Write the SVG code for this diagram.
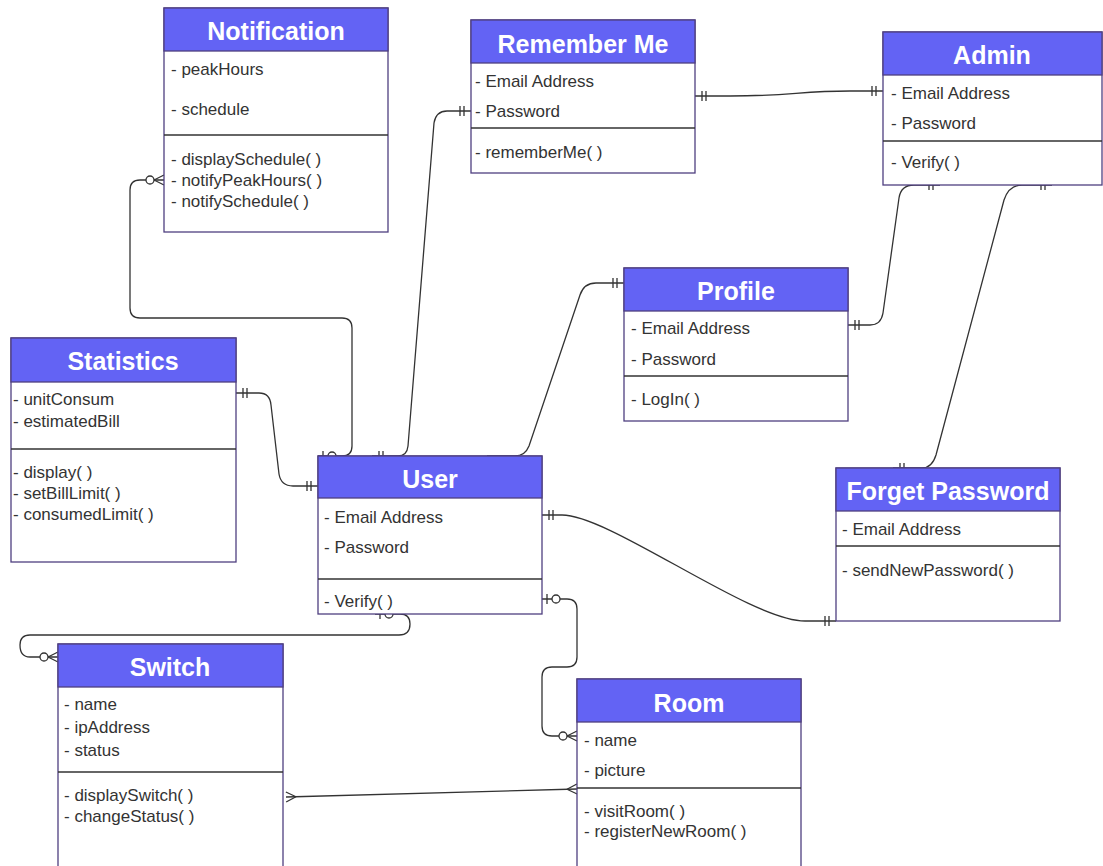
<svg xmlns="http://www.w3.org/2000/svg" width="1103" height="866" viewBox="0 0 1103 866">
<style>
  .box{fill:#fff;stroke:#4f3f80;stroke-width:1.3}
  .hdr{fill:#6363f4;stroke:#4f3f80;stroke-width:1.3}
  .div{stroke:#333;stroke-width:1.3}
  .t{font-family:"Liberation Sans",Arial,sans-serif;font-size:25px;font-weight:bold;fill:#fff;text-anchor:middle}
  .a{font-family:"Liberation Sans",Arial,sans-serif;font-size:17px;fill:#333}
  .c{fill:none;stroke:#333;stroke-width:1.3}
  .m{fill:none;stroke:#333;stroke-width:1.3}
  .mc{fill:#fff;stroke:#333;stroke-width:1.3}
</style>
<defs>
  <marker id="one" markerUnits="userSpaceOnUse" viewBox="-20 -10 22 20" refX="0" refY="0" markerWidth="22" markerHeight="20" orient="auto-start-reverse" overflow="visible">
    <path class="m" d="M-7 -5V5M-11 -5V5"/>
  </marker>
  <marker id="zeroOne" markerUnits="userSpaceOnUse" viewBox="-20 -10 22 20" refX="0" refY="0" markerWidth="22" markerHeight="20" orient="auto-start-reverse" overflow="visible">
    <path class="m" d="M-5 -5V5"/>
    <circle class="mc" cx="-14" cy="0" r="4"/>
  </marker>
  <marker id="zeroMany" markerUnits="userSpaceOnUse" viewBox="-20 -10 22 20" refX="0" refY="0" markerWidth="22" markerHeight="20" orient="auto-start-reverse" overflow="visible">
    <path class="m" d="M-10 0L0 -5M-10 0L0 5"/>
    <circle class="mc" cx="-14" cy="0" r="4"/>
  </marker>
  <marker id="many" markerUnits="userSpaceOnUse" viewBox="-20 -10 22 20" refX="0" refY="0" markerWidth="22" markerHeight="20" orient="auto-start-reverse" overflow="visible">
    <path class="m" d="M-10 0L0 -5M-10 0L0 5"/>
  </marker>
</defs>
<rect width="1103" height="866" fill="#fff"/>

<g id="connectors">
  <path class="c" d="M318 456L342 456Q352 456 352 446L352 328Q352 318 342 318L140 318Q130 318 130 308L130 190Q130 180 140 180L164 180" marker-start="url(#zeroOne)" marker-end="url(#zeroMany)"/>
  <path class="c" d="M372 456L398 456Q407 456 408 446L434 123Q436 111 447 111L471 111" marker-start="url(#one)" marker-end="url(#one)"/>
  <path class="c" d="M695 96L730 96C790 96 800 91 850 91L883 91" marker-start="url(#one)" marker-end="url(#one)"/>
  <path class="c" d="M487 456L515 456Q525 456 529 446L580 295Q584 283 596 283L624 283" marker-end="url(#one)"/>
  <path class="c" d="M848 325L870 325Q881 325 883 313L899 198Q901 185 914 185L940 185" marker-start="url(#one)" marker-end="url(#one)"/>
  <path class="c" d="M893 468L922 468Q932 468 936 455L1004 200Q1009 185 1022 185L1052 185" marker-start="url(#one)" marker-end="url(#one)"/>
  <path class="c" d="M236 393L259 393Q270 393 271 405L279 474Q281 486 293 486L318 486" marker-start="url(#one)" marker-end="url(#one)"/>
  <path class="c" d="M542 515L562 515C610 515 750 621 805 621L836 621" marker-start="url(#one)" marker-end="url(#one)"/>
  <path class="c" d="M375 614L400 614Q410 614 410 624Q410 635 399 635L30 635Q20 635 20 645Q20 657 30 657L58 657" marker-start="url(#zeroOne)" marker-end="url(#zeroMany)"/>
  <path class="c" d="M542 599L567 599Q577 599 577 609L577 657Q577 667 567 667L552 667Q542 667 542 677L542 726Q542 736 552 736L577 736" marker-start="url(#zeroOne)" marker-end="url(#zeroMany)"/>
  <path class="c" d="M286 797L577 789" marker-start="url(#many)" marker-end="url(#many)"/>
</g>

<g id="notification">
  <rect class="box" x="164" y="8" width="224" height="224"/>
  <rect class="hdr" x="164" y="8" width="224" height="43"/>
  <line class="div" x1="164" y1="135" x2="388" y2="135"/>
  <text class="t" x="276" y="40">Notification</text>
  <text class="a" x="171" y="75">- peakHours</text>
  <text class="a" x="171" y="115">- schedule</text>
  <text class="a" x="171" y="165">- displaySchedule( )</text>
  <text class="a" x="171" y="186">- notifyPeakHours( )</text>
  <text class="a" x="171" y="207">- notifySchedule( )</text>
</g>

<g id="rememberMe">
  <rect class="box" x="471" y="20" width="224" height="153"/>
  <rect class="hdr" x="471" y="20" width="224" height="43"/>
  <line class="div" x1="471" y1="128" x2="695" y2="128"/>
  <text class="t" x="583" y="53">Remember Me</text>
  <text class="a" x="475" y="87">- Email Address</text>
  <text class="a" x="475" y="117">- Password</text>
  <text class="a" x="475" y="158">- rememberMe( )</text>
</g>

<g id="admin">
  <rect class="box" x="883" y="32" width="219" height="153"/>
  <rect class="hdr" x="883" y="32" width="219" height="43"/>
  <line class="div" x1="883" y1="141" x2="1102" y2="141"/>
  <text class="t" x="992" y="64">Admin</text>
  <text class="a" x="891" y="99">- Email Address</text>
  <text class="a" x="891" y="129">- Password</text>
  <text class="a" x="891" y="168">- Verify( )</text>
</g>

<g id="profile">
  <rect class="box" x="624" y="268" width="224" height="153"/>
  <rect class="hdr" x="624" y="268" width="224" height="43"/>
  <line class="div" x1="624" y1="376" x2="848" y2="376"/>
  <text class="t" x="736" y="300">Profile</text>
  <text class="a" x="631" y="334">- Email Address</text>
  <text class="a" x="631" y="365">- Password</text>
  <text class="a" x="631" y="405">- LogIn( )</text>
</g>

<g id="statistics">
  <rect class="box" x="11" y="338" width="225" height="224"/>
  <rect class="hdr" x="11" y="338" width="225" height="44"/>
  <line class="div" x1="11" y1="449" x2="236" y2="449"/>
  <text class="t" x="123" y="370">Statistics</text>
  <text class="a" x="13" y="405">- unitConsum</text>
  <text class="a" x="13" y="427">- estimatedBill</text>
  <text class="a" x="13" y="478">- display( )</text>
  <text class="a" x="13" y="499">- setBillLimit( )</text>
  <text class="a" x="13" y="520">- consumedLimit( )</text>
</g>

<g id="user">
  <rect class="box" x="318" y="456" width="224" height="158"/>
  <rect class="hdr" x="318" y="456" width="224" height="42"/>
  <line class="div" x1="318" y1="579" x2="542" y2="579"/>
  <text class="t" x="430" y="488">User</text>
  <text class="a" x="324" y="523">- Email Address</text>
  <text class="a" x="324" y="553">- Password</text>
  <text class="a" x="324" y="607">- Verify( )</text>
</g>

<g id="forgetPassword">
  <rect class="box" x="836" y="468" width="224" height="153"/>
  <rect class="hdr" x="836" y="468" width="224" height="43"/>
  <line class="div" x1="836" y1="546" x2="1060" y2="546"/>
  <text class="t" x="948" y="500">Forget Password</text>
  <text class="a" x="842" y="535">- Email Address</text>
  <text class="a" x="842" y="576">- sendNewPassword( )</text>
</g>

<g id="switch">
  <rect class="box" x="58" y="644" width="225" height="240"/>
  <rect class="hdr" x="58" y="644" width="225" height="43"/>
  <line class="div" x1="58" y1="772" x2="283" y2="772"/>
  <text class="t" x="170" y="676">Switch</text>
  <text class="a" x="64" y="710">- name</text>
  <text class="a" x="64" y="733">- ipAddress</text>
  <text class="a" x="64" y="756">- status</text>
  <text class="a" x="64" y="801">- displaySwitch( )</text>
  <text class="a" x="64" y="822">- changeStatus( )</text>
</g>

<g id="room">
  <rect class="box" x="577" y="679" width="224" height="205"/>
  <rect class="hdr" x="577" y="679" width="224" height="43"/>
  <line class="div" x1="577" y1="788" x2="801" y2="788"/>
  <text class="t" x="689" y="712">Room</text>
  <text class="a" x="584" y="746">- name</text>
  <text class="a" x="584" y="776">- picture</text>
  <text class="a" x="584" y="817">- visitRoom( )</text>
  <text class="a" x="584" y="837">- registerNewRoom( )</text>
</g>
</svg>
